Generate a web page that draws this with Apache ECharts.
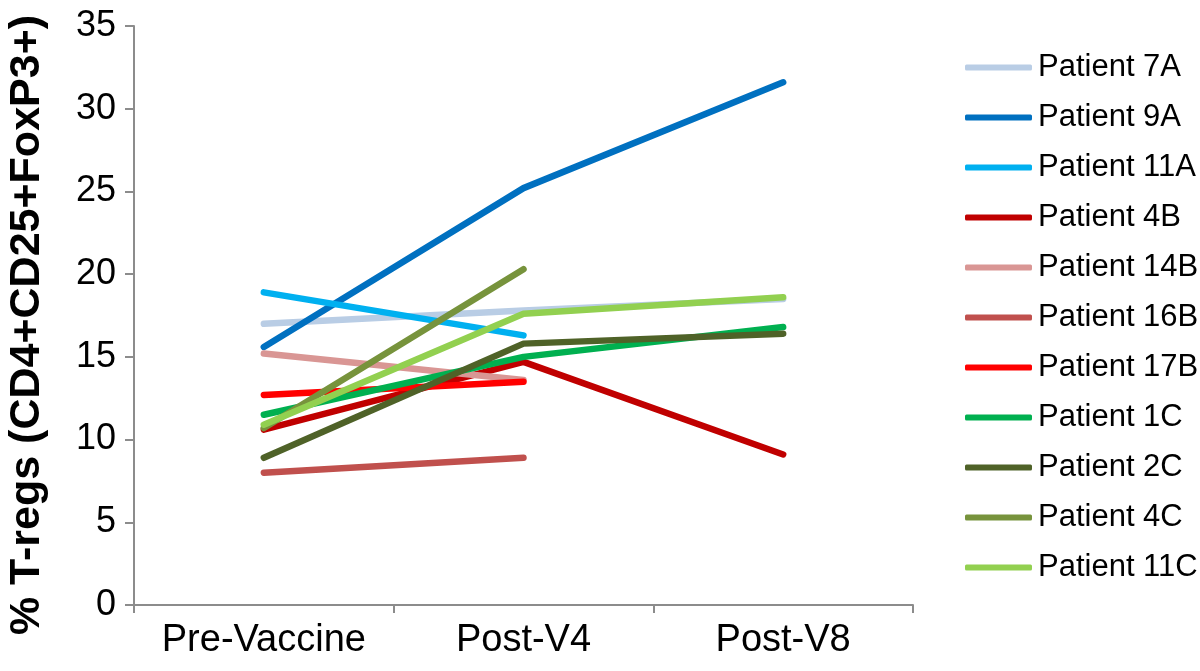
<!DOCTYPE html>
<html>
<head>
<meta charset="utf-8">
<script src="https://cdn.jsdelivr.net/npm/echarts@6/dist/echarts.min.js"></script>
<style>
	html, body { margin: 0; padding: 0; background: #fff; }
	#chart { width: 1200px; height: 671px; }
</style>
</head>
<body>
<div id="chart"></div>
<script>
// time points
const categories = ['Pre-Vaccine', 'Post-V4', 'Post-V8'];

// % T-regs per patient (null = not measured)
const patient7A = [17.0, 17.8, 18.5];
const patient9A = [15.6, 25.2, 31.6];
const patient11A = [18.9, 16.3, null];
const patient4B = [10.6, 14.7, 9.1];
const patient14B = [15.2, 13.6, null];
const patient16B = [8.0, 8.9, null];
const patient17B = [12.7, 13.5, null];
const patient1C = [11.5, 15.0, 16.8];
const patient2C = [8.9, 15.8, 16.4];
const patient4C = [10.7, 20.3, null];
const patient11C = [10.9, 17.6, 18.6];

const seriesNames = ['Patient 7A', 'Patient 9A', 'Patient 11A', 'Patient 4B', 'Patient 14B', 'Patient 16B',
	'Patient 17B', 'Patient 1C', 'Patient 2C', 'Patient 4C', 'Patient 11C'];
const seriesData = [patient7A, patient9A, patient11A, patient4B, patient14B, patient16B,
	patient17B, patient1C, patient2C, patient4C, patient11C];
const colors = ['#b9cde5', '#0070c0', '#00b0f0', '#c00000', '#d99694', '#c0504d',
	'#ff0000', '#00b050', '#4f6228', '#77933c', '#92d050'];

const yTicks = { min: 0, max: 35, interval: 5 };
const yTitle = '% T-regs (CD4+CD25+FoxP3+)';

const font = "'Liberation Sans', Arial, sans-serif";
const axisGray = '#8c8c8c';

const chart = echarts.init(document.getElementById('chart'));

const options = {
	animation: false,
	color: colors,
	textStyle: { fontFamily: font },
	grid: {
		left: 134,
		right: 287,
		top: 26,
		bottom: 66,
		containLabel: false,
		outerBoundsMode: 'none',
	},
	// y axis title, placed by hand
	graphic: [{
		type: 'text',
		x: 27,
		y: 325,
		rotation: Math.PI / 2,
		style: {
			text: yTitle,
			fill: '#000',
			font: 'bold 43px ' + font,
			align: 'center',
			verticalAlign: 'middle',
		},
	}],
	legend: {
		orient: 'vertical',
		left: 960,
		top: 47,
		icon: 'roundRect',
		itemWidth: 67,
		itemHeight: 6,
		itemGap: 19,
		textStyle: {
			fontFamily: font,
			fontSize: 31,
			color: '#000',
			lineHeight: 31,
			padding: [0, 0, 0, 1],
		},
		data: seriesNames,
	},
	xAxis: {
		type: 'category',
		data: categories,
		boundaryGap: true,
		axisLine: { lineStyle: { color: axisGray, width: 2 } },
		axisTick: { show: true, length: 8, lineStyle: { color: axisGray, width: 2 } },
		axisLabel: { color: '#000', fontSize: 38, fontFamily: font, margin: 17, interval: 0 },
		splitLine: { show: false },
	},
	yAxis: {
		type: 'value',
		min: yTicks.min,
		max: yTicks.max,
		interval: yTicks.interval,
		axisLine: { show: true, lineStyle: { color: axisGray, width: 2 } },
		axisTick: { show: true, length: 9, lineStyle: { color: axisGray, width: 2 } },
		axisLabel: { color: '#000', fontSize: 36, fontFamily: font, margin: 18 },
		splitLine: { show: false },
	},
	series: seriesNames.map((name, i) => ({
		name: name,
		type: 'line',
		data: seriesData[i],
		symbol: 'none',
		connectNulls: false,
		lineStyle: { width: 6.5, color: colors[i], cap: 'round', join: 'round' },
		itemStyle: { color: colors[i] },
	})),
};

chart.setOption(options);
</script>
</body>
</html>
